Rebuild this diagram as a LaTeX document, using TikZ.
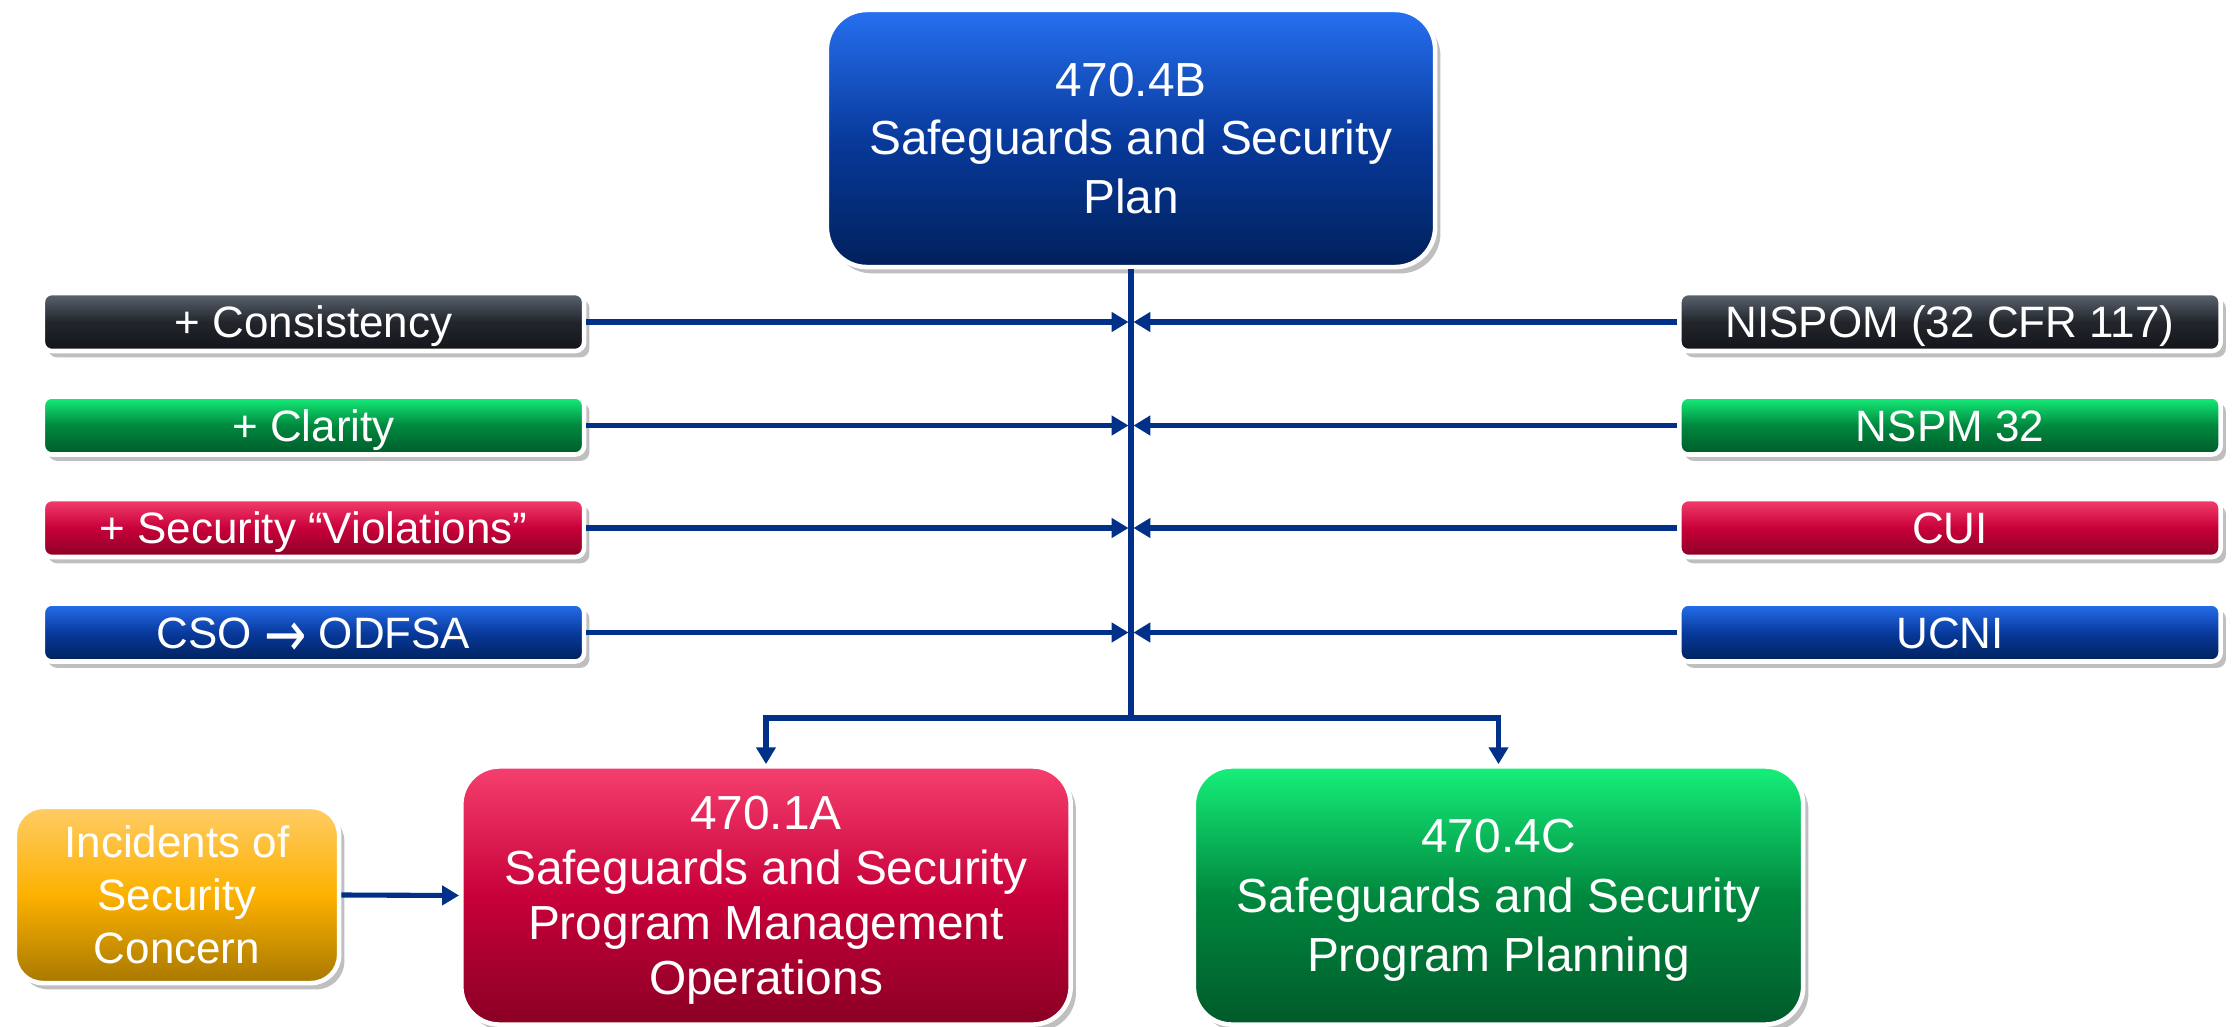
\documentclass[tikz,border=0pt]{standalone}
\usepackage{fontspec}
\setmainfont{Liberation Sans}
\newfontfamily\arrowfont{DejaVu Sans}
\usetikzlibrary{arrows.meta,shadows}
\definecolor{lineblue}{HTML}{003087}
\definecolor{bluetop}{HTML}{2670F0}\definecolor{bluemid}{HTML}{083A9C}\definecolor{bluebot}{HTML}{00205A}
\definecolor{darktop}{HTML}{5D6672}\definecolor{darkmid}{HTML}{22262C}\definecolor{darkbot}{HTML}{121418}
\definecolor{greentop}{HTML}{16F07A}\definecolor{greenmid}{HTML}{00883E}\definecolor{greenbot}{HTML}{005A2A}
\definecolor{redtop}{HTML}{F5406E}\definecolor{redmid}{HTML}{C8003A}\definecolor{redbot}{HTML}{8A0024}
\definecolor{goldtop}{HTML}{FFCC66}\definecolor{goldmid}{HTML}{FDB100}\definecolor{goldbot}{HTML}{A87800}
\tikzset{
  boxbase/.style={draw=white, line width=1.3pt, text=white, align=center, inner sep=0pt,
    drop shadow={shadow xshift=1.5pt, shadow yshift=-1.8pt, opacity=0.25, fill=black}},
  blueshade/.style={top color=bluetop, bottom color=bluebot, middle color=bluemid},
  darkshade/.style={top color=darktop, bottom color=darkbot, middle color=darkmid},
  greenshade/.style={top color=greentop, bottom color=greenbot, middle color=greenmid},
  redshade/.style={top color=redtop, bottom color=redbot, middle color=redmid},
  goldshade/.style={top color=goldtop, bottom color=goldbot, middle color=goldmid},
  bar/.style={boxbase, rounded corners=0.09cm, minimum width=5.41cm, minimum height=0.58cm,
    font=\fontsize{12.5}{15}\selectfont, text height=9pt, text depth=0pt},
  bigbox/.style={boxbase, rounded corners=0.38cm, minimum width=6.09cm, minimum height=2.58cm},
  conn/.style={draw=lineblue, line width=1.45pt, -{Triangle[length=4.8pt,width=5.4pt]}},
  trunk/.style={draw=lineblue, line width=1.45pt}
}
\begin{document}
\begin{tikzpicture}[x=0.01cm,y=-0.01cm]
\useasboundingbox (0,0) rectangle (2238,1027);
% top box
\node[boxbase, blueshade, rounded corners=0.4cm, minimum width=6.08cm, minimum height=2.57cm,
  font=\fontsize{13.6}{16.6}\selectfont] (top) at (1131,138.5) {470.4B\\Safeguards and Security\\Plan};
% left bars
\node[bar, darkshade] (l1) at (313.5,322) {+ Consistency};
\node[bar, greenshade] (l2) at (313.5,425.5) {+ Clarity};
\node[bar, redshade] (l3) at (313.5,528) {+ Security “Violations”};
\node[bar, blueshade] (l4) at (313.5,632.5) {CSO \raisebox{-2.2pt}{\arrowfont\scalebox{1.15}[1.45]{→}} ODFSA};
% right bars
\node[bar, darkshade] (r1) at (1950,322) {NISPOM (32 CFR 117)};
\node[bar, greenshade] (r2) at (1950,425.5) {NSPM 32};
\node[bar, redshade] (r3) at (1950,528) {CUI};
\node[bar, blueshade] (r4) at (1950,632.5) {UCNI};
% bottom boxes
\node[bigbox, redshade, font=\fontsize{13.6}{15.6}\selectfont, text depth=-1pt] (ops) at (766,895.5)
  {470.1A\\Safeguards and Security\\Program Management\\Operations};
\node[bigbox, greenshade, font=\fontsize{13.6}{16.9}\selectfont, text depth=0pt] (plan) at (1498.5,895.5)
  {470.4C\\Safeguards and Security\\Program Planning};
\node[boxbase, goldshade, rounded corners=0.28cm, minimum width=3.24cm, minimum height=1.76cm,
  font=\fontsize{12.5}{15}\selectfont] (inc) at (177,895) {Incidents of\\Security\\Concern};
% trunk
\coordinate (j) at (1131,718);
\draw[trunk] (top.south) -- (j);
\draw[conn] (j) -| (ops.north);
\draw[conn] (j) -| (plan.north);
% side arrows
\foreach \n in {l1,l2,l3,l4}{
  \draw[conn, shorten >=0.7pt] (\n.east) -- (\n.east -| j);
}
\foreach \n in {r1,r2,r3,r4}{
  \draw[conn, shorten >=0.7pt] (\n.west) -- (\n.west -| j);
}
\draw[conn] (inc.east) -- (ops.west);
\end{tikzpicture}
\end{document}
